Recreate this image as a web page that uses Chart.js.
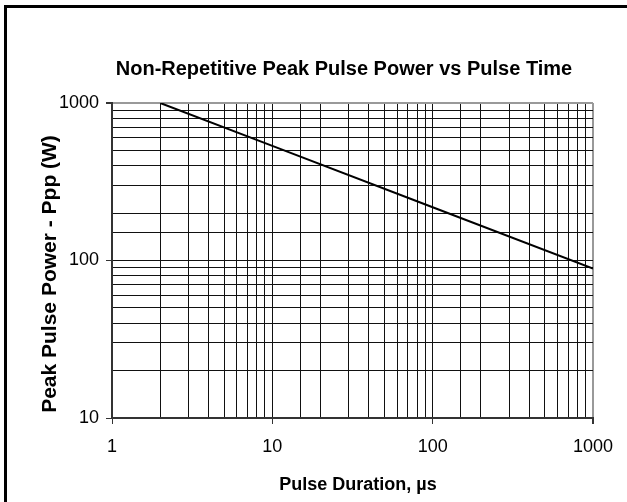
<!DOCTYPE html>
<html>
<head>
<meta charset="utf-8">
<script src="https://cdn.jsdelivr.net/npm/chart.js@4/dist/chart.umd.min.js"></script>
<style>
  html, body { margin: 0; padding: 0; background: #fff; }
  #wrap { width: 627px; height: 502px; position: relative; }
</style>
</head>
<body>
<div id="wrap"><canvas id="c" width="627" height="502"></canvas></div>
<script>
// Data
const pulseDuration = [2, 10, 100, 1000];          // µs
const peakPower     = [1000, 534, 218, 89];        // W
const xTickLabels   = [1, 10, 100, 1000];
const yTickLabels   = [10, 100, 1000];
const chartTitle  = 'Non-Repetitive Peak Pulse Power vs Pulse Time';
const xAxisTitle  = 'Pulse Duration, µs';
const yAxisTitle  = 'Peak Pulse Power - Ppp (W)';

const FONT = "'Liberation Sans', Arial, Helvetica, sans-serif";

const framePlugin = {
  id: 'frame',
  beforeDraw(chart) {
    const ctx = chart.ctx;
    ctx.save();
    ctx.fillStyle = '#fff';
    ctx.fillRect(0, 0, chart.width, chart.height);
    ctx.fillStyle = '#000';
    ctx.fillRect(4, 5, 3, chart.height - 5);
    ctx.fillRect(4, 5, chart.width - 4, 3);
    ctx.restore();
  }
};

const titlesPlugin = {
  id: 'titles',
  afterDraw(chart) {
    const ctx = chart.ctx;
    ctx.save();
    ctx.fillStyle = '#000';
    ctx.textAlign = 'center';
    ctx.textBaseline = 'middle';
    ctx.font = 'bold 20px ' + FONT;
    ctx.fillText(chartTitle, 344, 69);
    ctx.font = 'bold 18px ' + FONT;
    ctx.fillText(xAxisTitle, 358, 485);
    ctx.translate(50, 274);
    ctx.rotate(-Math.PI / 2);
    ctx.font = 'bold 21px ' + FONT;
    ctx.fillText(yAxisTitle, 0, 0);
    ctx.restore();
  }
};

function isMajor(v, list) { return list.some(t => Math.abs(t - v) < 1e-9); }

new Chart(document.getElementById('c'), {
  type: 'line',
  data: {
    datasets: [{
      data: pulseDuration.map((x, i) => ({ x: x, y: peakPower[i] })),
      borderColor: '#000',
      borderWidth: 2,
      pointRadius: 0,
      fill: false,
      tension: 0
    }]
  },
  plugins: [framePlugin, titlesPlugin],
  options: {
    responsive: false,
    devicePixelRatio: 1,
    animation: false,
    layout: { padding: { left: 0, right: 34, top: 103, bottom: 0 } },
    plugins: {
      legend: { display: false },
      tooltip: { enabled: false },
      title: { display: false }
    },
    scales: {
      x: {
        type: 'logarithmic',
        min: 1, max: 1000,
        afterFit(s) { s.height = 84; },
        border: { color: '#333', width: 2 },
        grid: {
          color: c => (c.tick && c.tick.value === 1000) ? '#999' : '#111',
          lineWidth: c => (c.tick && c.tick.value === 1000) ? 2 : 1,
          tickColor: c => (c.tick && isMajor(c.tick.value, xTickLabels)) ? '#333' : 'rgba(0,0,0,0)',
          tickLength: 6,
          drawTicks: true
        },
        ticks: {
          autoSkip: false,
          maxRotation: 0,
          padding: 12,
          color: '#000',
          font: { family: FONT, size: 18 },
          callback: v => isMajor(v, xTickLabels) ? String(v) : ''
        },
        title: { display: false }
      },
      y: {
        type: 'logarithmic',
        min: 10, max: 1000,
        afterFit(s) { s.width = 112; },
        border: { color: '#333', width: 2 },
        grid: {
          color: c => (c.tick && c.tick.value === 1000) ? '#999' : '#111',
          lineWidth: c => (c.tick && c.tick.value === 1000) ? 2 : 1,
          tickColor: c => (c.tick && isMajor(c.tick.value, yTickLabels)) ? '#333' : 'rgba(0,0,0,0)',
          tickLength: 6,
          drawTicks: true
        },
        ticks: {
          autoSkip: false,
          padding: 7,
          color: '#000',
          font: { family: FONT, size: 18 },
          callback: v => isMajor(v, yTickLabels) ? String(v) : ''
        },
        title: { display: false }
      }
    }
  }
});
</script>
</body>
</html>
